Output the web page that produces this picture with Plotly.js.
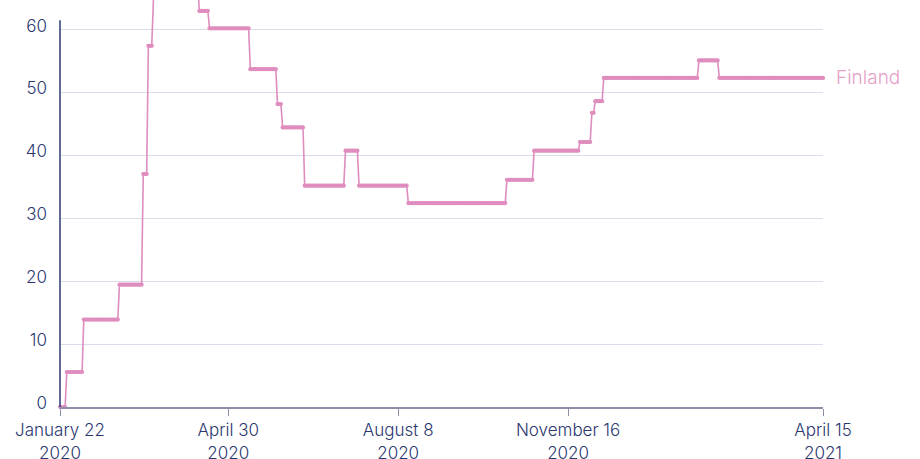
<!DOCTYPE html>
<html>
<head>
<meta charset="utf-8">
<script src="https://cdn.plot.ly/plotly-3.0.1.min.js"></script>
<style>
html,body{margin:0;padding:0;background:#fff;}
#chart{width:920px;height:459px;}
</style>
</head>
<body>
<div id="chart"></div>
<script>
// Step changes of the index (start date of each level, and its value)
var stepStart = ["2020-01-22","2020-01-26","2020-02-05","2020-02-26","2020-03-11","2020-03-14","2020-03-17","2020-03-25","2020-04-13","2020-04-19","2020-05-13","2020-05-29","2020-06-01","2020-06-14","2020-07-08","2020-07-16","2020-08-14","2020-10-11","2020-10-27","2020-11-23","2020-11-30","2020-12-02","2020-12-07","2021-02-01","2021-02-13"];
var stepValue = [0,5.56,13.89,19.44,37.04,57.41,64.81,67.59,62.96,60.19,53.7,48.15,44.44,35.19,40.74,35.19,32.41,36.11,40.74,42.13,46.76,48.61,52.31,55.09,52.31];
var endDate = "2021-04-15";
var seriesName = "Finland";
var tickVals = ["2020-01-22","2020-04-30","2020-08-08","2020-11-16","2021-04-15"];
var tickText = ["January 22<br>2020","April 30<br>2020","August 8<br>2020","November 16<br>2020","April 15<br>2021"];
var yTicks = [0,10,20,30,40,50,60];

// expand the step levels to daily observations
function toDate(s){return new Date(s+"T00:00:00Z");}
function fmt(d){return d.toISOString().slice(0,10);}
var xs=[], ys=[];
var end=toDate(endDate);
for (var i=0;i<stepStart.length;i++){
  var d=toDate(stepStart[i]);
  var stop = i+1<stepStart.length ? toDate(stepStart[i+1]) : new Date(end.getTime()+86400000);
  while(d<stop){xs.push(fmt(d)); ys.push(stepValue[i]); d=new Date(d.getTime()+86400000);}
}

var pink="#df8dbe";
var navy="#2b3870";
var trace={x:xs,y:ys,type:"scatter",mode:"lines+markers",
  line:{color:pink,width:1.6},marker:{color:pink,size:4.2},
  cliponaxis:false,hoverinfo:"skip",name:seriesName};

var layout={
  width:920,height:459,
  margin:{l:60,r:97,t:0,b:52},
  paper_bgcolor:"#fff",plot_bgcolor:"#fff",
  showlegend:false,
  font:{family:"Inter, sans-serif",size:17,color:navy,weight:300},
  xaxis:{type:"date",range:["2020-01-22","2021-04-15"],
    tickmode:"array",tickvals:tickVals,ticktext:tickText,
    showgrid:false,zeroline:false,showline:true,linecolor:"#8e8eaa",linewidth:2,
    ticks:"outside",ticklen:7,tickcolor:"#8e8eaa",tickwidth:1,
    tickfont:{family:"Inter, sans-serif",size:17,color:navy,weight:300}},
  yaxis:{range:[0,64.7],tickmode:"array",tickvals:yTicks,
    showgrid:true,gridcolor:"#dcdbea",gridwidth:1,zeroline:false,
    showline:false,ticks:"",
    ticklabelstandoff:12,ticklabelshift:-4,
    tickfont:{family:"Inter, sans-serif",size:17,color:navy,weight:300}},
  shapes:[{type:"line",xref:"paper",yref:"y",x0:0,x1:0,y0:-0.8,y1:61.5,
    line:{color:navy,width:1.5},layer:"above"}],
  annotations:[{x:xs[xs.length-1],y:ys[ys.length-1],xref:"x",yref:"y",
    text:seriesName,showarrow:false,xanchor:"left",yanchor:"middle",xshift:11,
    font:{family:"Inter, sans-serif",size:19,color:"#e6a0c8",weight:300}}]
};
Plotly.newPlot("chart",[trace],layout,{staticPlot:true,displayModeBar:false});
</script>
</body>
</html>
